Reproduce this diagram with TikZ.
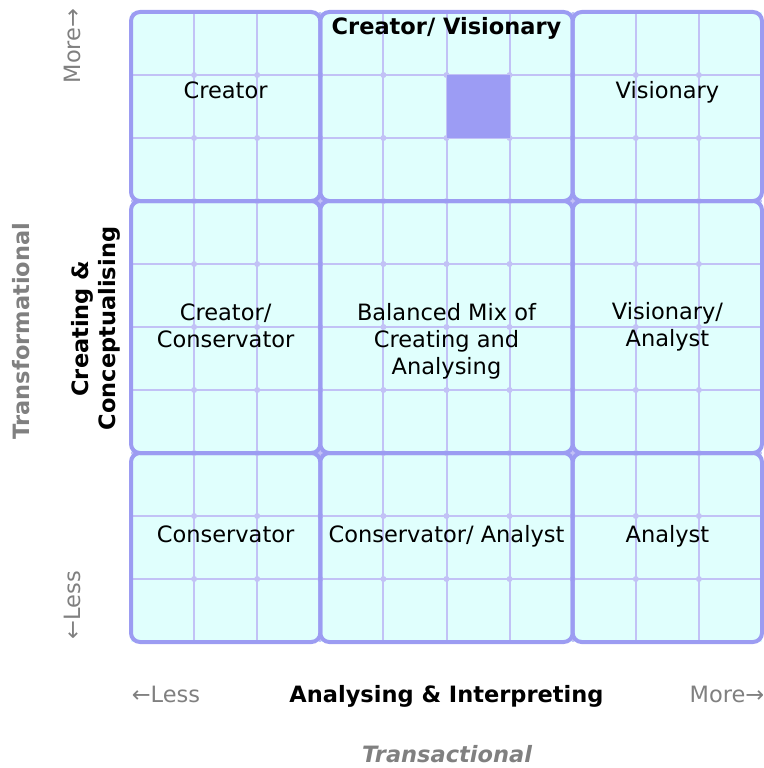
\documentclass[tikz,border=0pt]{standalone}
\usepackage{fontspec}
\setmainfont{DejaVu Sans}
\definecolor{cellfill}{HTML}{E0FFFD}
\definecolor{minorline}{HTML}{C2C2F6}
\definecolor{majorline}{HTML}{9C9CF2}
\definecolor{darkcell}{HTML}{9C9CF4}
\definecolor{axisgray}{HTML}{808080}
\begin{document}
\begin{tikzpicture}[x=1pt,y=-1pt,
  cell/.style={font=\fontsize{22.5}{27}\selectfont, align=center, inner sep=0pt, anchor=base},
  celltitle/.style={cell, font=\fontsize{22.5}{27}\selectfont\bfseries},
  axistitle/.style={font=\fontsize{22.5}{27}\selectfont\bfseries, align=center, inner sep=0pt, anchor=base},
  axisgrey/.style={font=\fontsize{22.5}{27}\selectfont\bfseries, text=axisgray, inner sep=0pt, anchor=base},
  axisend/.style={font=\fontsize{22.5}{27}\selectfont, text=axisgray, inner sep=0pt, anchor=base},
  minorgrid/.style={draw=minorline, line width=2pt},
  majorbox/.style={draw=majorline, line width=4pt, rounded corners=9pt}]
\useasboundingbox (0,0) rectangle (763,768);
\def\sx{63.1}
\def\sy{63}
% background of the grid
\fill[cellfill] (131,12) rectangle (762,642);
% minor grid lines
\foreach \i in {1,...,9}{
  \draw[minorgrid] (131+\i*\sx,12) -- (131+\i*\sx,642);
  \draw[minorgrid] (131,12+\i*\sy) -- (762,12+\i*\sy);
}
\foreach \i in {1,...,9}{
  \foreach \j in {1,...,9}{
    \fill[minorline] (131+\i*\sx,12+\j*\sy) circle (3);
  }
}
% highlighted cell
\fill[darkcell] (131+5*\sx,12+\sy) rectangle (131+6*\sx,12+2*\sy);
% major boxes
\foreach \a/\b in {0/3,3/7,7/10}{
  \foreach \c/\d in {0/3,3/7,7/10}{
    \draw[majorbox] (131+\a*\sx,12+\c*\sy) rectangle (131+\b*\sx,12+\d*\sy);
  }
}
% cell labels (base anchor = baseline of the last line)
\node[celltitle] (cv) at (446.5,35) {Creator/ Visionary};
\node[cell] (cr) at (225.6,99) {Creator};
\node[cell] (vi) at (667.4,99) {Visionary};
\node[cell] (cc) at (225.6,347) {Creator/\\Conservator};
\node[cell] (bm) at (446.5,374) {Balanced Mix of\\Creating and\\Analysing};
\node[cell] (va) at (667.4,346) {Visionary/\\Analyst};
\node[cell] (co) at (225.6,542) {Conservator};
\node[cell] (ca) at (446.5,542) {Conservator/ Analyst};
\node[cell] (an) at (667.4,542) {Analyst};
% vertical axis
\node[axisgrey, rotate=90] (tf) at (29,331) {Transformational};
\node[axistitle, rotate=90] (cc2) at (115,328.5) {Creating \&\\Conceptualising};
\node[axisend, rotate=90] (vmore) at (80,46) {More→};
\node[axisend, rotate=90] (vless) at (80,605) {←Less};
% horizontal axis
\node[axisend] (hless) at (166,702) {←Less};
\node[axistitle] (ai) at (446.5,702) {Analysing \& Interpreting};
\node[axisend] (hmore) at (727,702) {More→};
\node[axisgrey, font=\fontsize{22.5}{27}\selectfont\bfseries\itshape] (tr) at (447,762) {Transactional};
\end{tikzpicture}
\end{document}
